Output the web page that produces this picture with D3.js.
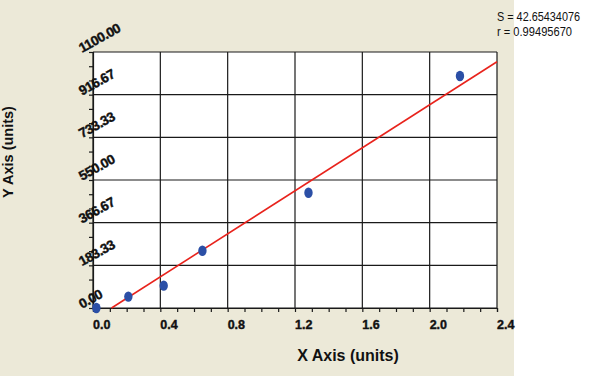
<!DOCTYPE html>
<html>
  <head>
    <title>Standard Curve</title>
    <meta charset="utf-8" />
    <style>
      body { margin: 0; background: #fff; }
      svg { display: block; }
    </style>
  </head>
  <body>
    <div id="chart"></div>
    <script src="https://d3js.org/d3.v7.min.js"></script>
    <script type="text/javascript">
        // measured points
        const xValues = [0.02, 0.21, 0.42, 0.65, 1.28, 2.18];
        const yValues = [0, 49, 96, 246, 495, 997];
        // fitted line end points
        const fitX = [0.11, 2.4];
        const fitY = [0, 1058];
        const xTicks = [0, 0.4, 0.8, 1.2, 1.6, 2.0, 2.4];
        const yTicks = [0, 183.33, 366.67, 550, 733.33, 916.67, 1100];
        const statLines = ["S = 42.65434076", "r = 0.99495670"];

        const width = 600;
        const height = 381;
        const margin = ({top: 52, right: 103, bottom: 72, left: 93});
        const font = "'Liberation Sans', Arial, sans-serif";

        const x = d3.scaleLinear()
            .domain([0, 2.4])
            .range([margin.left, width - margin.right]);
        const y = d3.scaleLinear()
            .domain([0, 1100])
            .range([height - margin.bottom - 1, margin.top]);

        const svg = d3.select("#chart")
            .append("svg")
            .attr("width", width)
            .attr("height", height);

        // beige panel
        svg.append("rect")
            .attr("x", 0).attr("y", 0)
            .attr("width", 514).attr("height", 376)
            .attr("fill", "#ece9d8");

        // plot area
        svg.append("rect")
            .attr("x", x(0)).attr("y", y(1100))
            .attr("width", x(2.4) - x(0)).attr("height", y(0) - y(1100))
            .attr("fill", "#fff");

        // grid
        const grid = svg.append("g")
            .attr("stroke", "#1a1a1a")
            .attr("stroke-width", 1.2);
        grid.selectAll(".vx")
            .data(xTicks)
            .join("line")
            .attr("x1", d => x(d)).attr("x2", d => x(d))
            .attr("y1", y(0)).attr("y2", y(1100));
        grid.selectAll(".hy")
            .data(yTicks)
            .join("line")
            .attr("y1", d => y(d)).attr("y2", d => y(d))
            .attr("x1", x(0)).attr("x2", x(2.4));

        // axes with minor ticks
        const xMinor = d3.range(0, 24.5).map(i => i / 10);
        const yMinor = d3.range(0, 18.5).map(i => i * 1100 / 18);

        svg.append("g")
            .attr("transform", `translate(0,${y(0)})`)
            .call(d3.axisBottom(x).tickValues(xMinor).tickSize(4).tickFormat(""))
            .call(g => g.selectAll("line,path").attr("stroke", "#1a1a1a").attr("stroke-width", 1.2));

        svg.append("g")
            .attr("transform", `translate(${x(0)},0)`)
            .call(d3.axisLeft(y).tickValues(yMinor).tickSize(4).tickFormat(""))
            .call(g => g.selectAll("line,path").attr("stroke", "#1a1a1a").attr("stroke-width", 1.2));

        // x tick labels
        svg.append("g")
            .attr("font-family", font)
            .attr("font-weight", "bold")
            .attr("font-size", 12.5)
            .attr("fill", "#111")
            .attr("stroke", "#111")
            .attr("stroke-width", 0.4)
            .selectAll("text")
            .data(xTicks)
            .join("text")
            .attr("x", d => x(d))
            .attr("y", y(0) + 21)
            .text(d => d.toFixed(1));

        // y tick labels, rotated
        svg.append("g")
            .attr("font-family", font)
            .attr("font-weight", "bold")
            .attr("font-size", 13.5)
            .attr("fill", "#111")
            .attr("stroke", "#111")
            .attr("stroke-width", 0.4)
            .selectAll("text")
            .data(yTicks)
            .join("text")
            .attr("transform", d => `translate(82,${y(d) + 1}) rotate(-29)`)
            .attr("letter-spacing", -0.4)
            .text(d => d.toFixed(2));

        // fit line
        svg.append("line")
            .attr("x1", x(fitX[0])).attr("y1", y(fitY[0]))
            .attr("x2", x(fitX[1])).attr("y2", y(fitY[1]))
            .attr("stroke", "#e8231c")
            .attr("stroke-width", 1.6);

        // points
        svg.append("g")
            .attr("fill", "#2b4fa6")
            .selectAll("ellipse")
            .data(xValues)
            .join("ellipse")
            .attr("cx", d => x(d))
            .attr("cy", (d, i) => y(yValues[i]))
            .attr("rx", 4.2)
            .attr("ry", 5.2);

        // axis titles
        svg.append("text")
            .attr("x", 348)
            .attr("y", 361)
            .attr("text-anchor", "middle")
            .attr("font-family", font)
            .attr("font-weight", "bold")
            .attr("font-size", 16)
            .attr("fill", "#111")
            .text("X Axis (units)");

        svg.append("text")
            .attr("transform", "translate(13,152) rotate(-90)")
            .attr("text-anchor", "middle")
            .attr("font-family", font)
            .attr("font-weight", "bold")
            .attr("font-size", 14.5)
            .attr("fill", "#111")
            .text("Y Axis (units)");

        // fit statistics
        svg.append("g")
            .attr("font-family", font)
            .attr("font-size", 12.5)
            .attr("fill", "#111")
            .selectAll("text")
            .data(statLines)
            .join("text")
            .attr("x", 497)
            .attr("y", (d, i) => 21 + i * 15)
            .attr("textLength", (d, i) => i === 0 ? 83 : 75)
            .attr("lengthAdjust", "spacingAndGlyphs")
            .text(d => d);
    </script>
  </body>
</html>
